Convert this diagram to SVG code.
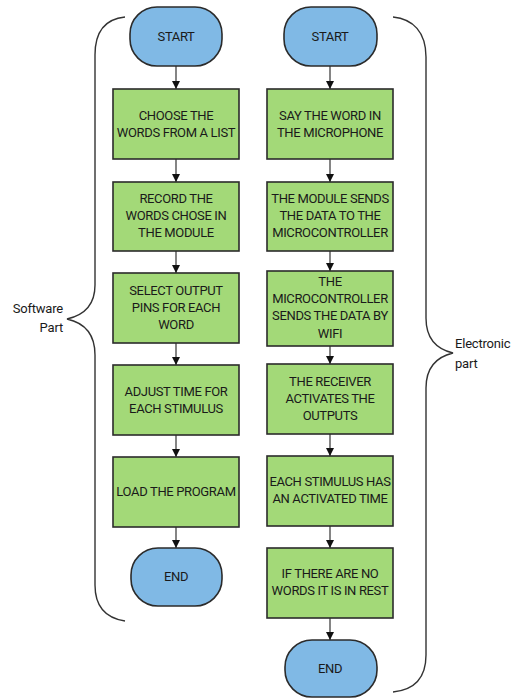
<svg xmlns="http://www.w3.org/2000/svg" width="519" height="698" viewBox="0 0 519 698">
<defs>
<style>
.box{fill:#a3d978;stroke:#2b2b2b;stroke-width:1.6}
.term{fill:#80b9e5;stroke:#2b2b2b;stroke-width:1.6}
.t{font-family:Roboto,"Liberation Sans",sans-serif;font-size:13px;fill:#1a1a1a;text-anchor:middle;dominant-baseline:central;letter-spacing:-0.35px}
.lbl{font-family:Roboto,"Liberation Sans",sans-serif;font-size:13px;fill:#1a1a1a;dominant-baseline:central;letter-spacing:-0.2px}
.conn{stroke:#333;stroke-width:1.2;fill:none}
.brace{stroke:#333;stroke-width:1.4;fill:none}
</style>
<marker id="ah" viewBox="0 0 10 10" refX="10" refY="5" markerWidth="8" markerHeight="8" markerUnits="userSpaceOnUse" orient="auto">
<path d="M0,0 L10,5 L0,10 z" fill="#111"/>
</marker>
</defs>
<rect width="519" height="698" fill="#fff"/>

<g id="braces">
<path class="brace" d="M125,17 C105,19 95,32 95,55 L95,285 C95,305 85,315 67,319 C85,323 95,335 95,355 L95,585 C95,606 105,618 125,621"/>
<path class="brace" d="M393,17 C413,19 426,32 426,57 L426,318 C426,338 436,349 453,353 C436,357 426,368 426,388 L426,655 C426,680 413,690 393,692"/>
</g>
<g id="label-software">
<text class="lbl" x="63" y="308" text-anchor="end">Software</text>
<text class="lbl" x="63" y="327" text-anchor="end">Part</text>
</g>
<g id="label-electronic">
<text class="lbl" x="455" y="343">Electronic</text>
<text class="lbl" x="455" y="363">part</text>
</g>

<g id="connectors">
<line class="conn" x1="176" y1="66" x2="176" y2="89" marker-end="url(#ah)"/>
<line class="conn" x1="176" y1="159" x2="176" y2="182" marker-end="url(#ah)"/>
<line class="conn" x1="176" y1="251" x2="176" y2="273" marker-end="url(#ah)"/>
<line class="conn" x1="176" y1="343" x2="176" y2="365" marker-end="url(#ah)"/>
<line class="conn" x1="176" y1="435" x2="176" y2="457" marker-end="url(#ah)"/>
<line class="conn" x1="176" y1="527" x2="176" y2="548" marker-end="url(#ah)"/>
<line class="conn" x1="330" y1="66" x2="330" y2="89" marker-end="url(#ah)"/>
<line class="conn" x1="330" y1="159" x2="330" y2="182" marker-end="url(#ah)"/>
<line class="conn" x1="330" y1="251" x2="330" y2="271" marker-end="url(#ah)"/>
<line class="conn" x1="330" y1="346" x2="330" y2="364" marker-end="url(#ah)"/>
<line class="conn" x1="330" y1="434" x2="330" y2="456" marker-end="url(#ah)"/>
<line class="conn" x1="330" y1="526" x2="330" y2="548" marker-end="url(#ah)"/>
<line class="conn" x1="330" y1="618" x2="330" y2="640" marker-end="url(#ah)"/>
</g>

<g id="l-start">
<rect class="term" x="130" y="7" width="92" height="59" rx="27" ry="27"/>
<text class="t" x="176" y="36">START</text>
</g>
<g id="l-choose">
<rect class="box" x="113" y="89" width="126" height="70"/>
<text class="t" x="176" y="115">CHOOSE THE</text>
<text class="t" x="176" y="132">WORDS FROM A LIST</text>
</g>
<g id="l-record">
<rect class="box" x="113" y="182" width="126" height="69"/>
<text class="t" x="176" y="198">RECORD THE</text>
<text class="t" x="176" y="215">WORDS CHOSE IN</text>
<text class="t" x="176" y="232">THE MODULE</text>
</g>
<g id="l-select">
<rect class="box" x="113" y="273" width="126" height="70"/>
<text class="t" x="176" y="290">SELECT OUTPUT</text>
<text class="t" x="176" y="307">PINS FOR EACH</text>
<text class="t" x="176" y="324">WORD</text>
</g>
<g id="l-adjust">
<rect class="box" x="113" y="365" width="126" height="70"/>
<text class="t" x="176" y="391">ADJUST TIME FOR</text>
<text class="t" x="176" y="408">EACH STIMULUS</text>
</g>
<g id="l-load">
<rect class="box" x="113" y="457" width="126" height="70"/>
<text class="t" x="176" y="491">LOAD THE PROGRAM</text>
</g>
<g id="l-end">
<rect class="term" x="131" y="548" width="91" height="58" rx="27" ry="27"/>
<text class="t" x="176" y="576">END</text>
</g>

<g id="r-start">
<rect class="term" x="284" y="7" width="93" height="59" rx="27" ry="27"/>
<text class="t" x="330" y="36">START</text>
</g>
<g id="r-say">
<rect class="box" x="267" y="89" width="126" height="70"/>
<text class="t" x="330" y="115">SAY THE WORD IN</text>
<text class="t" x="330" y="132">THE MICROPHONE</text>
</g>
<g id="r-module">
<rect class="box" x="267" y="182" width="126" height="69"/>
<text class="t" x="330" y="198">THE MODULE SENDS</text>
<text class="t" x="330" y="215">THE DATA TO THE</text>
<text class="t" x="330" y="232">MICROCONTROLLER</text>
</g>
<g id="r-micro">
<rect class="box" x="267" y="271" width="126" height="75"/>
<text class="t" x="330" y="281">THE</text>
<text class="t" x="330" y="298">MICROCONTROLLER</text>
<text class="t" x="330" y="315">SENDS THE DATA BY</text>
<text class="t" x="330" y="333">WIFI</text>
</g>
<g id="r-receiver">
<rect class="box" x="267" y="364" width="126" height="70"/>
<text class="t" x="330" y="381">THE RECEIVER</text>
<text class="t" x="330" y="398">ACTIVATES THE</text>
<text class="t" x="330" y="415">OUTPUTS</text>
</g>
<g id="r-each">
<rect class="box" x="267" y="456" width="126" height="70"/>
<text class="t" x="330" y="481">EACH STIMULUS HAS</text>
<text class="t" x="330" y="498">AN ACTIVATED TIME</text>
</g>
<g id="r-rest">
<rect class="box" x="267" y="548" width="126" height="70"/>
<text class="t" x="330" y="573">IF THERE ARE NO</text>
<text class="t" x="330" y="590">WORDS IT IS IN REST</text>
</g>
<g id="r-end">
<rect class="term" x="285" y="640" width="92" height="57" rx="27" ry="27"/>
<text class="t" x="330" y="668">END</text>
</g>
</svg>
